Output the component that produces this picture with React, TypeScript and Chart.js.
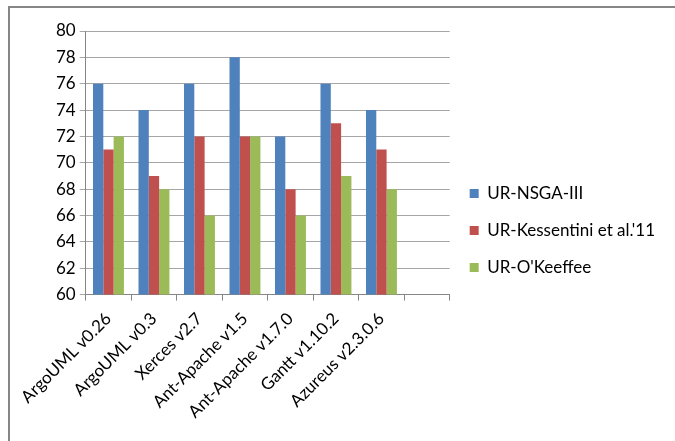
import React, { useEffect, useRef } from "react";
import { Chart, registerables } from "chart.js";

Chart.register(...registerables);

const categories = [
  "ArgoUML v0.26",
  "ArgoUML v0.3",
  "Xerces v2.7",
  "Ant-Apache v1.5",
  "Ant-Apache v1.7.0",
  "Gantt v1.10.2",
  "Azureus v2.3.0.6",
  "",
];
const nsga3 = [76, 74, 76, 78, 72, 76, 74, null];
const kessentini = [71, 69, 72, 72, 68, 73, 71, null];
const okeeffe = [72, 68, 66, 72, 66, 69, 68, null];
const yTicks = { min: 60, max: 80, step: 2 };

const FONT = "Lato, 'Open Sans', sans-serif";

const framePlugin = {
  id: "frame",
  beforeDraw(chart: any) {
    const ctx = chart.ctx;
    ctx.save();
    ctx.fillStyle = "#ffffff";
    ctx.fillRect(0, 0, chart.width, chart.height);
    ctx.strokeStyle = "#868686";
    ctx.lineWidth = 2;
    ctx.beginPath();
    ctx.moveTo(9, chart.height);
    ctx.lineTo(9, 7);
    ctx.lineTo(chart.width, 7);
    ctx.stroke();
    ctx.restore();
  },
};

export default function App() {
  const ref = useRef<HTMLCanvasElement | null>(null);
  useEffect(() => {
    if (!ref.current) return;
    const chart = new Chart(ref.current, {
      type: "bar",
      data: {
        labels: categories,
        datasets: [
          { label: "UR-NSGA-III", data: nsga3, backgroundColor: "#4F81BD" },
          { label: "UR-Kessentini et al.'11", data: kessentini, backgroundColor: "#C0504D" },
          { label: "UR-O'Keeffee", data: okeeffe, backgroundColor: "#9BBB59" },
        ],
      },
      options: {
        animation: false,
        responsive: false,
        maintainAspectRatio: false,
        datasets: { bar: { categoryPercentage: 0.68, barPercentage: 1 } },
        layout: { padding: { top: 31, left: 52, right: 10, bottom: 11 } },
        plugins: {
          legend: {
            position: "right",
            align: "center",
            maxWidth: 400,
            labels: {
              boxWidth: 9,
              boxHeight: 9,
              padding: 20,
              color: "#000",
              font: { family: FONT, size: 17 },
            },
          },
          tooltip: { enabled: false },
        },
        scales: {
          x: {
            grid: { drawOnChartArea: false, color: "#868686", tickLength: 6 },
            border: { color: "#868686" },
            ticks: {
              minRotation: 45,
              maxRotation: 45,
              color: "#000",
              font: { family: FONT, size: 17 },
              padding: 8,
            },
          },
          y: {
            min: yTicks.min,
            max: yTicks.max,
            grid: { color: "#a6a6a6", tickLength: 6 },
            border: { color: "#868686" },
            ticks: {
              stepSize: yTicks.step,
              color: "#000",
              font: { family: FONT, size: 17 },
              padding: 4,
            },
          },
        },
      },
      plugins: [framePlugin],
    });
    return () => chart.destroy();
  }, []);
  return (
    <div style={{ position: "fixed", left: 0, top: 0, width: 675, height: 441 }}>
      <canvas ref={ref} width={675} height={441} style={{ width: 675, height: 441 }} />
    </div>
  );
}
